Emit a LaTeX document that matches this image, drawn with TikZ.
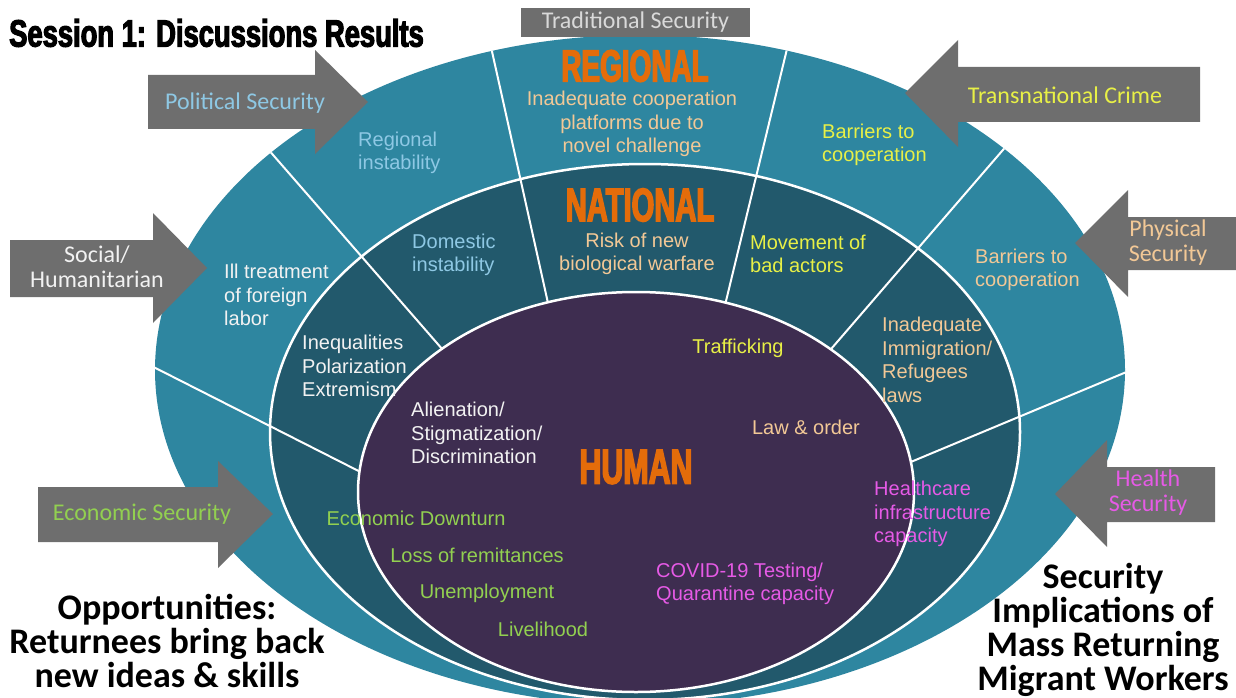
\documentclass[tikz,border=0pt]{standalone}
\usepackage{fontspec}
\setmainfont{Liberation Sans}
\newfontfamily\calibri{Carlito}
\newfontfamily\impactfont[FakeStretch=0.62,FakeBold=3]{Liberation Sans}
\newfontfamily\titlefont[FakeStretch=0.72,FakeBold=3]{Liberation Sans}
\definecolor{ringout}{RGB}{46,134,160}
\definecolor{ringmid}{RGB}{34,89,108}
\definecolor{ringin}{RGB}{62,45,80}
\definecolor{arrowgray}{RGB}{110,110,110}
\definecolor{txtblue}{RGB}{142,200,228}
\definecolor{txttan}{RGB}{242,200,150}
\definecolor{txtyellow}{RGB}{232,240,70}
\definecolor{txtgreen}{RGB}{146,208,80}
\definecolor{txtpink}{RGB}{230,90,230}
\definecolor{txtorange}{RGB}{228,108,10}
\definecolor{txtwhite}{RGB}{242,242,242}

\begin{document}
\begin{tikzpicture}[x=1pt,y=-1pt,
    bodytext/.style={font=\fontsize{20}{23.5}\selectfont, inner sep=0pt},
    lefttext/.style={bodytext, align=left, anchor=west},
    midtext/.style={bodytext, align=center},
    leveltitle/.style={text=txtorange, inner sep=0pt},
    secarrow/.style={fill=arrowgray},
    arrowtext/.style={font=\calibri\fontsize{24}{25}\selectfont, align=center, inner sep=0pt},
    bigtext/.style={font=\calibri\bfseries\fontsize{36}{34}\selectfont, align=center, inner sep=0pt},
    sepline/.style={draw=white, line width=2pt},
    rimline/.style={draw=white, line width=2.5pt}]
    \useasboundingbox (0,0) rectangle (1236,698);
    \begin{scope}
    \clip (0,0) rectangle (1236,698);
    % three levels
    \fill[ringout] (640,370) ellipse [x radius=485, y radius=335];
    \fill[ringmid] (645,432) ellipse [x radius=375, y radius=268];
    \begin{scope}
    \clip (640,370) ellipse [x radius=485, y radius=335];
    \draw[sepline] (485,20) -- (554,330);
    \draw[sepline] (794,20) -- (719,330);
    \draw[sepline] (240,117) -- (470,381);
    \draw[sepline] (120,350) -- (400,492);
    \draw[sepline] (1040,107) -- (800,385);
    \draw[sepline] (1160,358) -- (870,479);
    \end{scope}
    \fill[ringin] (636,492) ellipse [x radius=278, y radius=200];
    \draw[rimline] (645,432) ellipse [x radius=375, y radius=268];
    \draw[rimline] (636,492) ellipse [x radius=278, y radius=200];
    \end{scope}

    % level names
    \node (regional) at (635,66)[leveltitle,font=\impactfont\bfseries\fontsize{45}{45}\selectfont]{REGIONAL};
    \node (national) at (640,205)[leveltitle,font=\impactfont\bfseries\fontsize{47}{47}\selectfont]{NATIONAL};
    \node (human) at (636,467)[leveltitle,font=\impactfont\bfseries\fontsize{49}{49}\selectfont]{HUMAN};

    % regional ring
    \node (regcoop) at (632,124)[midtext,text=txttan]{Inadequate cooperation\\platforms due to\\novel challenge};
    \node (reginst) at (358,153)[lefttext,text=txtblue]{Regional\\instability};
    \node (regbarr) at (822,145)[lefttext,text=txtyellow]{Barriers to\\cooperation};
    \node (regill) at (224,295)[lefttext,text=txtwhite]{Ill treatment\\of foreign\\labor};
    \node (regphys) at (975,270)[lefttext,text=txttan]{Barriers to\\cooperation};

    % national ring
    \node (natdom) at (412,255)[lefttext,text=txtblue]{Domestic\\instability};
    \node (natrisk) at (637,254)[midtext,text=txttan]{Risk of new\\biological warfare};
    \node (natmove) at (750,254)[lefttext,text=txtyellow]{Movement of\\bad actors};
    \node (natineq) at (302,366)[lefttext,text=txtwhite]{Inequalities\\Polarization\\Extremism};
    \node (natimm) at (882,360)[lefttext,text=txttan]{Inadequate\\Immigration/\\Refugees\\laws};
    \node (nathealth) at (874,514)[lefttext,text=txtpink]{Healthcare\\infrastructure\\capacity};
    \node (natecon) at (416,518)[midtext,text=txtgreen]{Economic Downturn};

    % human core
    \node (humtraf) at (738,348)[midtext,text=txtyellow]{Trafficking};
    \node (humalien) at (411,433)[lefttext,text=txtwhite]{Alienation/\\Stigmatization/\\Discrimination};
    \node (humlaw) at (806,427)[midtext,text=txttan]{Law \& order};
    \node (humloss) at (477,555)[midtext,text=txtgreen]{Loss of remittances};
    \node (humunemp) at (487,593)[midtext,text=txtgreen]{Unemployment};
    \node (humlive) at (543,629)[midtext,text=txtgreen]{Livelihood};
    \node (humcovid) at (656,584)[lefttext,text=txtpink]{COVID-19 Testing/\\Quarantine capacity};

    % security arrows
    \fill[secarrow] (148,75) -- (315,75) -- (315,50) -- (368,102) -- (315,154) -- (315,129) -- (148,129) -- cycle;
    \fill[secarrow] (10,240) -- (153,240) -- (153,213) -- (207,268) -- (153,323) -- (153,297) -- (10,297) -- cycle;
    \fill[secarrow] (38,487) -- (218,487) -- (218,461) -- (273,514) -- (218,568) -- (218,542) -- (38,542) -- cycle;
    \fill[secarrow] (1200,67) -- (958,67) -- (958,40) -- (905,93) -- (958,147) -- (958,122) -- (1200,122) -- cycle;
    \fill[secarrow] (1236,217) -- (1128,217) -- (1128,190) -- (1075,243) -- (1128,297) -- (1128,270) -- (1236,270) -- cycle;
    \fill[secarrow] (1215,467) -- (1107,467) -- (1107,440) -- (1055,494) -- (1107,547) -- (1107,522) -- (1215,522) -- cycle;
    \node (political) at (245,103)[arrowtext,text=txtblue]{Political Security};
    \node (social) at (97,267)[arrowtext,text=txtwhite]{Social/\\Humanitarian};
    \node (economic) at (142,514)[arrowtext,text=txtgreen]{Economic Security};
    \node (crime) at (1065,95)[arrowtext,text=txtyellow]{Transnational Crime};
    \node (physical) at (1168,243)[arrowtext,text=txttan]{Physical\\Security};
    \node (healthsec) at (1148,493)[arrowtext,text=txtpink]{Health\\Security};
    \node (traditional) at (635.5,22.5)[arrowtext,fill=arrowgray,text=black!15,minimum width=229,minimum height=29]{Traditional Security};

    % headings
    \node (title) at (9,33)[anchor=west,inner sep=0pt,font=\titlefont\bfseries\fontsize{38}{38}\selectfont]{Session 1: Discussions Results};
    \node (opport) at (167,641)[bigtext]{Opportunities:\\Returnees bring back\\new ideas \& skills};
    \node (implic) at (1103,630)[bigtext]{Security\\Implications of\\Mass Returning\\Migrant Workers};
\end{tikzpicture}
\end{document}
